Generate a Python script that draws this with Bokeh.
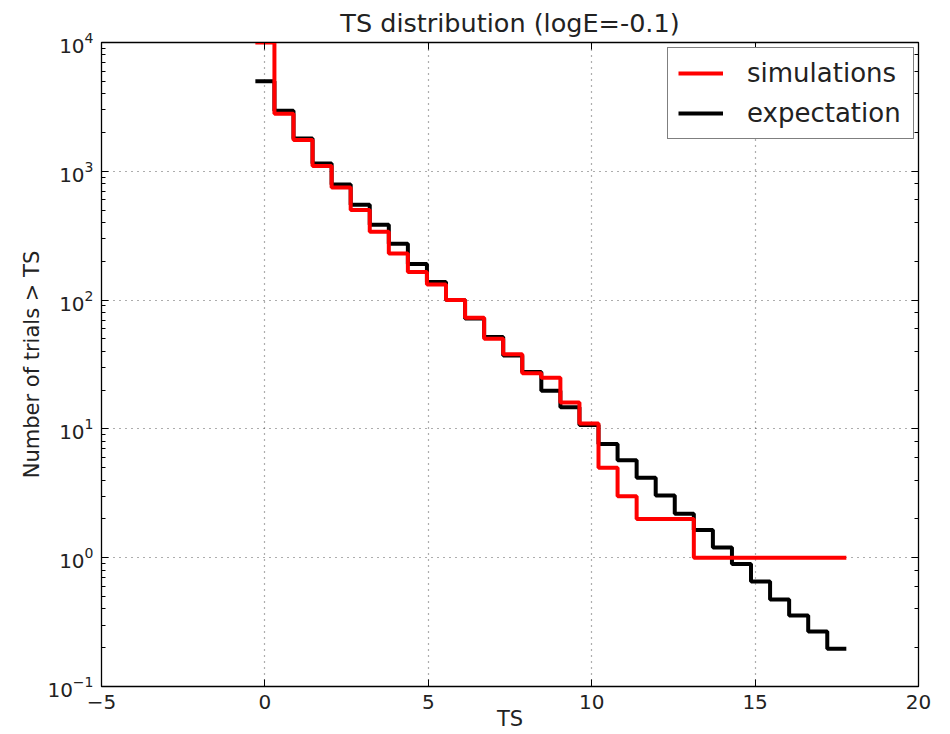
import numpy as np
from bokeh.plotting import figure
from bokeh.models import (Range1d, LogAxis, LinearAxis, Legend, LegendItem,
                          FixedTicker, LogTicker)
from bokeh.embed import file_html
from bokeh.resources import INLINE

# TS bin centres and the number of trials with TS above each bin
ts_centers = np.linspace(0.0, 17.5, 31)
simulations = [10000, 2800, 1750, 1100, 750, 500, 340, 230, 165, 132,
               100, 73, 50, 38, 27, 25, 16, 11, 5, 3,
               2, 2, 2, 1, 1, 1, 1, 1, 1, 1, 1]
expectation = [5000, 2950, 1800, 1150, 790, 550, 385, 274, 191, 138,
               100, 72, 51.6, 37.2, 27.6, 19.8, 14.7, 10.7, 7.65, 5.7,
               4.17, 3.04, 2.19, 1.64, 1.2, 0.895, 0.653, 0.473, 0.356, 0.267, 0.196]

x_ticks = [-5, 0, 5, 10, 15, 20]
x_tick_labels = {-5: "\u22125", 0: "0", 5: "5", 10: "10", 15: "15", 20: "20"}

FONT = "DejaVu Sans"
TEXT = "#222222"

# bin edges around each centre, for the step outline
half = (ts_centers[1] - ts_centers[0]) / 2.0
edges = np.append(ts_centers - half, ts_centers[-1] + half)
sim_y = list(simulations) + [simulations[-1]]
exp_y = list(expectation) + [expectation[-1]]

p = figure(width=950, height=734, y_axis_type="log",
           x_range=Range1d(-5, 20), y_range=Range1d(0.1, 10000),
           output_backend="svg", toolbar_location=None,
           min_border_left=101, min_border_right=32,
           min_border_top=42, min_border_bottom=48,
           title="TS distribution (logE=-0.1)")

p.title.text_font = FONT
p.title.text_font_size = "25.5px"
p.title.text_font_style = "normal"
p.title.align = "center"
p.title.text_color = TEXT
p.title.standoff = 10

p.outline_line_color = "black"
p.outline_line_width = 1.3
p.background_fill_color = "white"
p.border_fill_color = "white"

# grid: dotted at major ticks
for g in (p.xgrid, p.ygrid):
    g.grid_line_color = "#333333"
    g.grid_line_alpha = 0.8
    g.grid_line_dash = "1 5"
    g.grid_line_width = 1.2
p.xgrid.ticker = FixedTicker(ticks=x_ticks)

xa = p.xaxis[0]
xa.ticker = FixedTicker(ticks=x_ticks)
xa.major_label_overrides = x_tick_labels
xa.axis_label = "TS"
ya = p.yaxis[0]
ya.axis_label = "Number of trials > TS"

for ax in (xa, ya):
    ax.axis_label_text_font = FONT
    ax.axis_label_text_font_size = "21px"
    ax.axis_label_text_font_style = "normal"
    ax.axis_label_text_color = TEXT
    ax.major_label_text_font = FONT
    ax.major_label_text_font_size = "20px"
    ax.major_label_text_color = TEXT
    ax.axis_line_color = "black"
    ax.major_tick_in = 7
    ax.major_tick_out = 0
    ax.minor_tick_in = 4
    ax.minor_tick_out = 0
    ax.major_tick_line_color = "black"
    ax.minor_tick_line_color = "black"
xa.minor_tick_line_color = None
xa.major_label_standoff = 8
xa.axis_label_standoff = -5
ya.major_label_standoff = 8
ya.axis_label_standoff = 0

# mirrored tick marks on the top and right sides (labels hidden)
top = LinearAxis(ticker=FixedTicker(ticks=x_ticks),
                 major_label_text_font_size="1px", major_label_text_color=None,
                 major_label_standoff=0,
                 major_tick_in=7, major_tick_out=0, minor_tick_line_color=None,
                 axis_line_color="black", major_tick_line_color="black")
right = LogAxis(ticker=LogTicker(),
                major_label_text_font_size="1px", major_label_text_color=None,
                major_label_standoff=0,
                major_tick_in=7, major_tick_out=0, minor_tick_in=4, minor_tick_out=0,
                axis_line_color="black", major_tick_line_color="black",
                minor_tick_line_color="black")
p.add_layout(top, "above")
p.add_layout(right, "right")

r_exp = p.step(edges, exp_y, mode="after", line_color="black", line_width=4)
r_sim = p.step(edges, sim_y, mode="after", line_color="red", line_width=4)

legend = Legend(items=[LegendItem(label="simulations", renderers=[r_sim]),
                       LegendItem(label="expectation", renderers=[r_exp])],
                location=(566, 547))
legend.label_text_font = FONT
legend.label_text_font_size = "26px"
legend.label_text_color = TEXT
legend.padding = 10
legend.spacing = 10
legend.glyph_width = 45
legend.glyph_height = 28
legend.label_height = 28
legend.label_width = 156
legend.label_standoff = 24
legend.border_line_color = "black"
legend.border_line_width = 1.3
legend.background_fill_alpha = 1.0
legend.margin = 0
p.add_layout(legend)

open("out.html", "w").write(file_html(p, INLINE))
